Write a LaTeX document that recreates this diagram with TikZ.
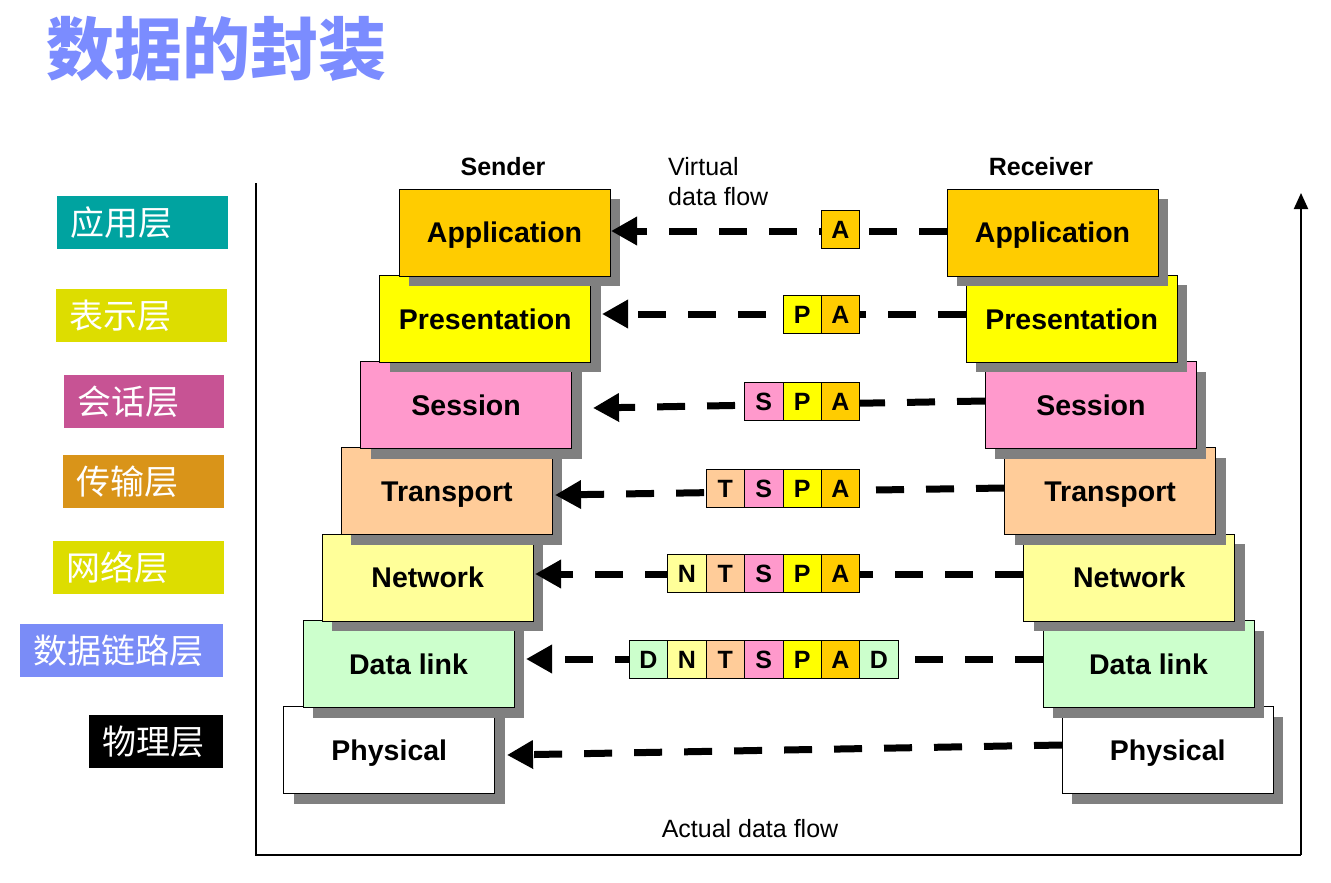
\documentclass[tikz,border=0pt]{standalone}
\usepackage{fontspec}
\setmainfont{Liberation Sans}
\newfontfamily\cjk{Noto Sans CJK SC}
\usetikzlibrary{arrows.meta,shadows}
\definecolor{app}{HTML}{FFCC00}
\definecolor{pres}{HTML}{FFFF00}
\definecolor{sess}{HTML}{FF99CC}
\definecolor{trans}{HTML}{FFCC99}
\definecolor{netw}{HTML}{FFFF99}
\definecolor{dlink}{HTML}{CCFFCC}
\definecolor{shade}{HTML}{808080}
\definecolor{titleblue}{HTML}{7B8CFF}
\definecolor{lteal}{HTML}{00A3A0}
\definecolor{lyel}{HTML}{DDDD00}
\definecolor{lmag}{HTML}{C75394}
\definecolor{lorg}{HTML}{D99419}
\definecolor{lblue}{HTML}{7A8CF7}
\tikzset{
  layer/.style={draw=black, line width=1pt, minimum width=211pt, minimum height=87pt,
    inner sep=0pt, outer sep=0pt, text height=20.5pt, text depth=0pt,
    font=\fontsize{28.5}{30}\selectfont\bfseries,
    drop shadow={shadow xshift=10pt, shadow yshift=-10pt, fill=shade, opacity=1}},
  cell/.style={draw=black, line width=0.8pt, minimum width=38.4pt, minimum height=38pt,
    inner sep=0pt, outer sep=0pt, text height=18pt, text depth=0pt,
    font=\fontsize{25}{26}\selectfont\bfseries},
  flow/.style={line width=7pt, dash pattern=on 28pt off 22pt,
    -{Triangle[length=26pt,width=27pt]}},
  lbl/.style={anchor=north west, inner ysep=0pt, inner xsep=13pt, minimum height=53pt,
    align=left, text=white, font=\cjk\fontsize{34}{36}\selectfont},
  frame/.style={line width=2pt},
  plain/.style={font=\fontsize{25}{30}\selectfont, inner sep=0pt},
  head/.style={font=\fontsize{25}{30}\selectfont\bfseries, inner sep=0pt}
}
\begin{document}
\begin{tikzpicture}[x=1pt,y=-1pt]
\useasboundingbox[fill=white] (0,0) rectangle (1331,883);
% title
\node[anchor=west, inner sep=0pt, text=titleblue, font=\cjk\bfseries\fontsize{68}{70}\selectfont] (title) at (46,49) {数据的封装};
% left labels
\node[lbl, fill=lteal, minimum width=171pt, text width=145pt] (l1) at (57,196) {应用层};
\node[lbl, fill=lyel, minimum width=171pt, text width=145pt] (l2) at (56,289) {表示层};
\node[lbl, fill=lmag, minimum width=160pt, text width=134pt] (l3) at (64,375) {会话层};
\node[lbl, fill=lorg, minimum width=161pt, text width=135pt] (l4) at (63,455) {传输层};
\node[lbl, fill=lyel, minimum width=171pt, text width=145pt] (l5) at (53,541) {网络层};
\node[lbl, fill=lblue, minimum width=203pt, text width=177pt] (l6) at (20,624) {数据链路层};
\node[lbl, fill=black, minimum width=134pt, text width=108pt] (l7) at (89,715) {物理层};
% frame
\coordinate (f1) at (256,183);
\coordinate (f2) at (256,855);
\coordinate (f3) at (1301,855);
\coordinate (f4) at (1301,193);
\draw[frame] (f1) -- (f2) -- (f3);
\draw[frame, -{Triangle[length=16pt,width=14pt]}] (f3) -- (f4);
% headings
\node[head] (snd) at (503,167) {Sender};
\node[head] (rcv) at (1041,167) {Receiver};
\node[plain, anchor=north west, align=left] (vdf) at (668,157) {Virtual\\data flow};
\node[plain] (adf) at (750,829) {Actual data flow};
% sender stack (bottom first)
\node[layer, fill=white] (s7) at (389.3,750.3) {Physical};
\node[layer, fill=dlink] (s6) at (408.5,664.0) {Data link};
\node[layer, fill=netw] (s5) at (427.7,577.7) {Network};
\node[layer, fill=trans] (s4) at (446.9,491.4) {Transport};
\node[layer, fill=sess] (s3) at (466.1,405.1) {Session};
\node[layer, fill=pres] (s2) at (485.3,318.8) {Presentation};
\node[layer, fill=app] (s1) at (504.5,232.5) {Application};
% receiver stack
\node[layer, fill=white] (r7) at (1167.7,750.3) {Physical};
\node[layer, fill=dlink] (r6) at (1148.5,664.0) {Data link};
\node[layer, fill=netw] (r5) at (1129.3,577.7) {Network};
\node[layer, fill=trans] (r4) at (1110.1,491.4) {Transport};
\node[layer, fill=sess] (r3) at (1090.9,405.1) {Session};
\node[layer, fill=pres] (r2) at (1071.7,318.8) {Presentation};
\node[layer, fill=app] (r1) at (1052.5,232.5) {Application};
% flow lines
\coordinate (a1) at (947,231);   \coordinate (b1) at (611,231);
\coordinate (a2) at (966,314);   \coordinate (b2) at (602,314);
\coordinate (a3) at (985,401);   \coordinate (b3) at (593,408);
\coordinate (a4) at (1004,488);  \coordinate (b4) at (555,495);
\coordinate (a5) at (1023,574);  \coordinate (b5) at (535,574);
\coordinate (a6) at (1043,659);  \coordinate (b6) at (526,659);
\coordinate (a7) at (1062,745);  \coordinate (b7) at (507,755);
\draw[flow] (a1) -- (b1);
\draw[flow] (a2) -- (b2);
\draw[flow] (a3) -- (b3);
\draw[flow] (a4) -- (b4);
\draw[flow] (a5) -- (b5);
\draw[flow] (a6) -- (b6);
\draw[flow] (a7) -- (b7);
% packets
\node[cell, fill=app] (p1a) at (840.5,229) {A};
\node[cell, fill=pres] (p2p) at (802.1,314) {P};
\node[cell, fill=app] (p2a) at (840.5,314) {A};
\node[cell, fill=sess] (p3s) at (763.7,401) {S};
\node[cell, fill=pres] (p3p) at (802.1,401) {P};
\node[cell, fill=app] (p3a) at (840.5,401) {A};
\node[cell, fill=trans] (p4t) at (725.3,488) {T};
\node[cell, fill=sess] (p4s) at (763.7,488) {S};
\node[cell, fill=pres] (p4p) at (802.1,488) {P};
\node[cell, fill=app] (p4a) at (840.5,488) {A};
\node[cell, fill=netw] (p5n) at (686.9,573) {N};
\node[cell, fill=trans] (p5t) at (725.3,573) {T};
\node[cell, fill=sess] (p5s) at (763.7,573) {S};
\node[cell, fill=pres] (p5p) at (802.1,573) {P};
\node[cell, fill=app] (p5a) at (840.5,573) {A};
\node[cell, fill=dlink] (p6d) at (648.5,659) {D};
\node[cell, fill=netw] (p6n) at (686.9,659) {N};
\node[cell, fill=trans] (p6t) at (725.3,659) {T};
\node[cell, fill=sess] (p6s) at (763.7,659) {S};
\node[cell, fill=pres] (p6p) at (802.1,659) {P};
\node[cell, fill=app] (p6a) at (840.5,659) {A};
\node[cell, fill=dlink] (p6e) at (878.9,659) {D};
\end{tikzpicture}
\end{document}
